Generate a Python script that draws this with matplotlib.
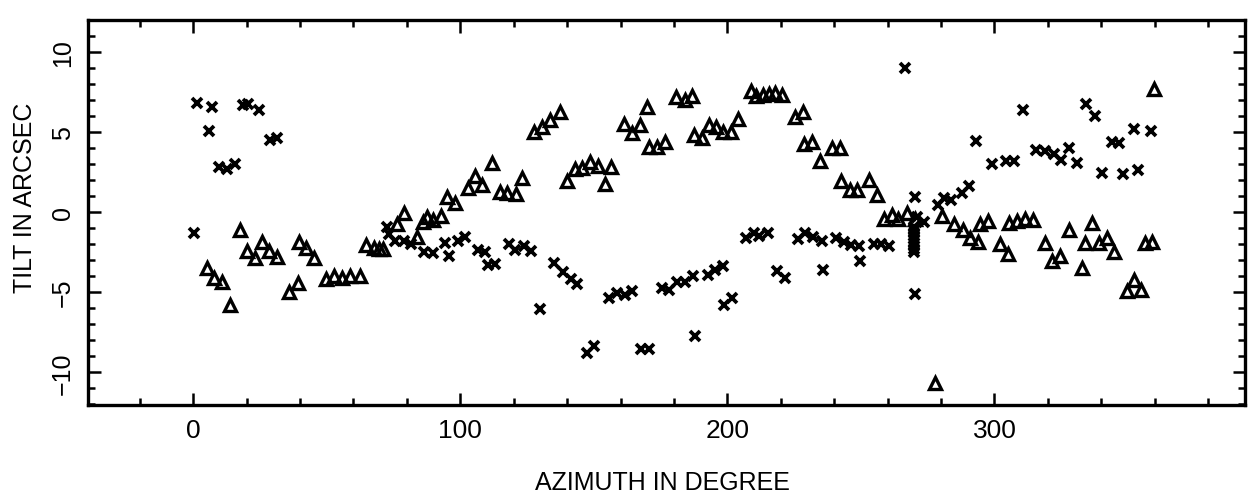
import matplotlib
matplotlib.use("Agg")
import matplotlib.pyplot as plt
from matplotlib.ticker import MultipleLocator, FixedLocator

plt.rcParams['font.family'] = ['Liberation Sans', 'DejaVu Sans']

# crosses (x-marker series): azimuth, tilt
cross_az = [0.4, 1.4, 5.9, 7.0, 9.5, 12.8, 15.7, 18.5, 20.6, 24.5, 28.8, 31.2,
            72.5, 73.2, 75.7, 78.8, 81.4, 86.4, 89.9, 94.1, 95.8, 99.0, 101.9,
            106.6, 109.4, 110.4, 112.9, 118.1, 120.6, 123.7, 126.3, 129.9, 135.1,
            138.6, 141.5, 143.7, 147.4, 150.1, 155.7, 158.7, 161.5, 164.2, 167.6,
            170.5, 175.4, 178.2, 181.3, 184.0, 187.1, 187.7, 192.7, 195.5, 198.5,
            198.9, 201.7, 207.1, 210.1, 212.0, 215.1, 218.5, 221.7, 226.3, 229.1,
            231.9, 235.4, 235.7, 240.6, 243.8, 246.3, 249.4, 249.8, 255.0, 257.5,
            260.6, 266.4, 270.3, 270.4, 270.9, 273.5, 278.9, 281.3, 283.8, 287.8,
            290.6, 293.2, 299.1, 304.4, 307.3, 310.6, 315.7, 318.8, 322.2, 325.1,
            327.9, 331.0, 334.2, 337.8, 340.2, 344.0, 346.8, 348.1, 352.2, 353.9,
            358.5,
            270.0, 270.0, 270.0, 270.0, 270.0, 270.0, 270.0, 270.0, 270.0]
cross_tilt = [-1.28, 6.84, 5.05, 6.56, 2.81, 2.70, 3.04, 6.70, 6.75, 6.37, 4.49, 4.66,
              -0.95, -1.36, -1.77, -1.82, -2.01, -2.46, -2.54, -1.90, -2.73, -1.78, -1.56,
              -2.38, -2.46, -3.29, -3.22, -2.01, -2.35, -2.09, -2.45, -6.06, -3.19,
              -3.75, -4.20, -4.47, -8.77, -8.34, -5.39, -5.03, -5.16, -4.94, -8.53,
              -8.52, -4.75, -4.83, -4.39, -4.38, -4.01, -7.76, -3.93, -3.63, -3.34,
              -5.78, -5.35, -1.64, -1.31, -1.51, -1.33, -3.67, -4.08, -1.70, -1.27,
              -1.54, -1.83, -3.60, -1.64, -1.84, -2.04, -2.09, -3.06, -2.00, -2.00,
              -2.10, 8.98, 0.92, -5.12, -0.33, -0.63, 0.44, 0.86, 0.77, 1.20,
              1.63, 4.46, 3.02, 3.21, 3.22, 6.41, 3.88, 3.83, 3.64, 3.29,
              3.98, 3.05, 6.75, 6.00, 2.46, 4.36, 4.30, 2.39, 5.22, 2.66,
              5.10,
              -0.9, -1.1, -1.3, -1.5, -1.7, -1.9, -2.1, -2.3, -2.5]

# triangles (open-triangle series): azimuth, tilt
tri_az = [5.1, 7.6, 10.8, 13.7, 17.4, 20.1, 23.0, 25.6, 28.5, 31.5, 36.0, 39.1,
          39.7, 42.2, 45.4, 49.7, 52.8, 55.9, 58.7, 62.4, 64.6, 67.7, 69.6, 71.2,
          76.2, 79.0, 83.8, 86.1, 87.5, 89.9, 92.7, 95.2, 98.2, 102.9, 105.4,
          108.2, 112.0, 114.8, 117.6, 120.7, 123.1, 127.6, 130.7, 133.7, 137.4,
          139.9, 142.9, 145.6, 148.5, 151.6, 154.0, 156.6, 161.2, 164.4, 167.4,
          170.0, 170.7, 173.8, 176.5, 180.8, 184.0, 186.8, 187.4, 190.5, 193.3,
          195.8, 198.2, 201.4, 204.1, 208.8, 210.7, 213.2, 215.7, 217.8, 220.6,
          225.2, 228.3, 228.8, 231.6, 234.7, 239.2, 242.3, 242.6, 245.8, 248.6,
          253.2, 256.2, 258.5, 261.8, 263.8, 267.1, 270.3, 277.8, 280.5, 285.0,
          288.1, 290.7, 293.9, 294.6, 297.5, 301.9, 304.9, 305.4, 308.3, 311.4,
          314.5, 318.8, 321.5, 324.4, 327.9, 332.8, 333.8, 336.6, 339.0, 342.0,
          344.7, 349.6, 352.4, 355.0, 356.2, 358.9, 359.7]
tri_tilt = [-3.46, -4.14, -4.38, -5.78, -1.12, -2.43, -2.89, -1.84, -2.45, -2.79, -4.96, -4.43,
            -1.86, -2.22, -2.88, -4.17, -4.01, -4.09, -3.99, -3.97, -2.02, -2.23, -2.28, -2.30,
            -0.72, -0.05, -1.53, -0.62, -0.27, -0.46, -0.24, 0.96, 0.56, 1.51, 2.25,
            1.70, 3.08, 1.25, 1.22, 1.13, 2.12, 5.01, 5.34, 5.77, 6.26,
            1.98, 2.68, 2.76, 3.12, 2.86, 1.79, 2.80, 5.53, 4.96, 5.45,
            6.59, 4.05, 4.06, 4.39, 7.22, 7.02, 7.24, 4.81, 4.65, 5.46,
            5.34, 5.00, 5.00, 5.85, 7.54, 7.24, 7.31, 7.37, 7.47, 7.32,
            5.94, 6.23, 4.29, 4.41, 3.21, 3.98, 3.99, 1.95, 1.38, 1.39,
            1.99, 1.07, -0.44, -0.16, -0.42, -0.03, -0.40, -10.66, -0.23, -0.75,
            -1.09, -1.64, -1.84, -0.75, -0.57, -2.01, -2.62, -0.66, -0.52, -0.42,
            -0.50, -1.94, -3.04, -2.71, -1.13, -3.50, -1.94, -0.67, -1.92, -1.60,
            -2.46, -4.94, -4.26, -4.87, -1.95, -1.84, 7.69]

x_major = [0, 100, 200, 300]
x_labels = ["0", "100", "200", "300"]
y_major = [-10, -5, 0, 5, 10]
y_labels = ["\u221210", "\u22125", "0", "5", "10"]

fig = plt.figure(figsize=(12.53, 5.02), dpi=100)
ax = fig.add_axes([0.070, 0.191, 0.924, 0.767])

ax.plot(tri_az, tri_tilt, linestyle='none', marker='^', markersize=8.5,
        markerfacecolor='none', markeredgecolor='black', markeredgewidth=2.4)
ax.plot(cross_az, cross_tilt, linestyle='none', marker='x', markersize=7.5,
        color='black', markeredgewidth=2.7)

ax.set_xlim(-39.5, 394)
ax.set_ylim(-12.05, 12)

ax.xaxis.set_major_locator(FixedLocator(x_major))
ax.set_xticklabels(x_labels)
ax.xaxis.set_minor_locator(MultipleLocator(20))
ax.yaxis.set_major_locator(FixedLocator(y_major))
ax.set_yticklabels(y_labels, rotation=90, va='center')
ax.yaxis.set_minor_locator(MultipleLocator(1))

ax.tick_params(which='both', direction='in', top=True, right=True, width=1.8, color='black')
ax.tick_params(which='major', length=9)
ax.tick_params(which='minor', length=5)
ax.tick_params(axis='x', which='major', labelsize=19, pad=9)
ax.tick_params(axis='y', which='major', labelsize=18, pad=9)
for lab in ax.get_yticklabels():
    lab.set_rotation(90)
    lab.set_va('center')

for sp in ax.spines.values():
    sp.set_linewidth(2.4)

fig.text(25 / 1253, 1 - 198 / 502, "TILT IN ARCSEC", rotation=90,
         ha='center', va='center', fontsize=18)
fig.text(662 / 1253, 1 - 483 / 502, "AZIMUTH IN DEGREE",
         ha='center', va='center', fontsize=18)

fig.savefig("out.png", dpi=100)
